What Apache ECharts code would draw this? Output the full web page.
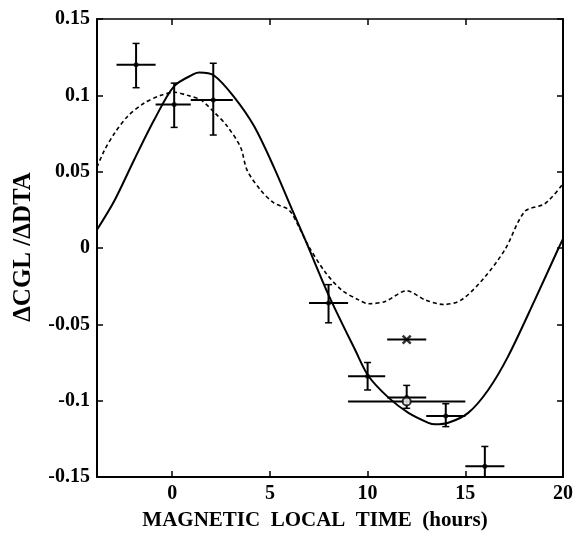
<!DOCTYPE html>
<html>
<head>
<meta charset="utf-8">
<script src="https://cdn.jsdelivr.net/npm/echarts@6/dist/echarts.min.js"></script>
<style>html,body{margin:0;padding:0;background:#fff;}#c{width:576px;height:545px;}</style>
</head>
<body>
<div id="c"></div>
<script>
// Solid fitted curve (x in hours, y value)
const solidX = [-3.85, -2.96, -1.94, -0.92, 0.10, 1.12, 1.38, 2.14, 3.16, 4.18, 5.20, 6.14, 6.82, 8.01, 9.37, 10.05, 11.07, 12.09, 13.11, 13.45, 14.13, 15.15, 16.17, 17.19, 18.56, 19.74, 20.0];
const solidY = [0.012, 0.031, 0.058, 0.084, 0.106, 0.114, 0.115, 0.113, 0.099, 0.080, 0.053, 0.025, 0.005, -0.031, -0.067, -0.084, -0.098, -0.108, -0.1145, -0.1155, -0.1145, -0.108, -0.093, -0.071, -0.034, -0.001, 0.006];
// Dashed model curve
const dashX = [-3.85, -3.47, -2.96, -2.30, -1.43, -0.58, 0.10, 0.77, 1.46, 2.14, 2.80, 3.50, 3.83, 4.52, 5.20, 5.97, 6.48, 6.99, 7.84, 8.67, 9.54, 10.05, 10.90, 12.0, 12.95, 13.9, 14.8, 16.0, 17.03, 18.05, 19.07, 20.0];
const dashY = [0.053, 0.064, 0.075, 0.086, 0.095, 0.100, 0.102, 0.100, 0.097, 0.089, 0.080, 0.066, 0.051, 0.038, 0.0295, 0.025, 0.014, 0.001, -0.016, -0.0275, -0.034, -0.0365, -0.035, -0.028, -0.034, -0.037, -0.034, -0.019, -0.001, 0.024, 0.029, 0.042];
// Data points with error bars
const ptX   = [-1.85, 0.10, 2.10, 8.0, 10.0, 12.0, 14.0, 16.0];
const ptY   = [0.120, 0.094, 0.097, -0.036, -0.084, -0.098, -0.110, -0.143];
const ptXLo = [-2.85, -0.85, 0.95, 7.0, 9.0, 11.0, 13.0, 15.0];
const ptXHi = [-0.85, 0.95, 3.10, 9.0, 10.9, 13.0, 15.0, 17.0];
const ptYLo = [0.105, 0.079, 0.074, -0.049, -0.093, -0.105, -0.117, -0.156];
const ptYHi = [0.134, 0.108, 0.121, -0.024, -0.075, -0.090, -0.102, -0.130];
// Open-circle point
const circX = [12.0], circY = [-0.1005], circXLo = [9.0], circXHi = [15.0];
// Cross point
const crossX = [12.0], crossY = [-0.060], crossXLo = [11.0], crossXHi = [13.0];
// Tick labels
const xTicks = [0, 5, 10, 15, 20];
const xTopTicks = [0, 5, 10, 15];
const xTitle = 'MAGNETIC  LOCAL  TIME  (hours)';
const yTitle = 'ΔCGL /ΔDTA';

const zip = (a, b) => a.map((v, i) => [v, b[i]]);
const errData = [];
ptX.forEach((x, i) => errData.push([x, ptY[i], ptXLo[i], ptXHi[i], ptYLo[i], ptYHi[i]]));
circX.forEach((x, i) => errData.push([x, circY[i], circXLo[i], circXHi[i], null, null]));
crossX.forEach((x, i) => errData.push([x, crossY[i], crossXLo[i], crossXHi[i], null, null]));

const font = '"Liberation Serif", "DejaVu Serif", serif';
const chart = echarts.init(document.getElementById('c'), null, {renderer: 'canvas'});
const fmtY = v => String(Number(v.toFixed(2)));

chart.setOption({
  animation: false,
  backgroundColor: '#fff',
  grid: {left: 97, right: 11, top: 19, bottom: 68},
  xAxis: [{
    type: 'value', min: -3.85, max: 20, position: 'bottom',
    axisLine: {show: true, onZero: false, lineStyle: {color: '#000', width: 2}},
    axisTick: {show: true, inside: true, length: 6, customValues: xTicks, lineStyle: {color: '#000', width: 1.5}},
    axisLabel: {customValues: xTicks, color: '#000', fontFamily: font, fontWeight: 'bold', fontSize: 20, margin: 7, showMinLabel: true, showMaxLabel: true},
    splitLine: {show: false}
  }, {
    type: 'value', min: -3.85, max: 20, position: 'top',
    axisLine: {show: true, onZero: false, lineStyle: {color: '#000', width: 1.5}},
    axisTick: {show: true, inside: true, length: 6, customValues: xTopTicks, lineStyle: {color: '#000', width: 1.5}},
    axisLabel: {show: false}, splitLine: {show: false}
  }],
  yAxis: [{
    type: 'value', min: -0.15, max: 0.15, interval: 0.05, position: 'left',
    axisLine: {show: true, onZero: false, lineStyle: {color: '#000', width: 2}},
    axisTick: {show: true, inside: true, length: 6, lineStyle: {color: '#000', width: 1.5}},
    axisLabel: {color: '#000', fontFamily: font, fontWeight: 'bold', fontSize: 20, margin: 7, formatter: fmtY},
    splitLine: {show: false}
  }, {
    type: 'value', min: -0.15, max: 0.15, interval: 0.05, position: 'right',
    axisLine: {show: true, onZero: false, lineStyle: {color: '#000', width: 2}},
    axisTick: {show: true, inside: true, length: 6, lineStyle: {color: '#000', width: 1.5}},
    axisLabel: {show: false}, splitLine: {show: false}
  }],
  graphic: [{
    type: 'text', x: 24, y: 247, rotation: Math.PI / 2,
    style: {text: yTitle, fill: '#000', font: 'bold 25px ' + font, textAlign: 'center', textVerticalAlign: 'middle'}
  }, {
    type: 'text', x: 315, y: 521,
    style: {text: xTitle, fill: '#000', font: 'bold 21px ' + font, textAlign: 'center', textVerticalAlign: 'middle'}
  }],
  series: [{
    type: 'line', data: zip(solidX, solidY), smooth: 0.3, showSymbol: false, symbol: 'none',
    lineStyle: {color: '#000', width: 2}, z: 3
  }, {
    type: 'line', data: zip(dashX, dashY), smooth: 0.3, showSymbol: false, symbol: 'none',
    lineStyle: {color: '#000', width: 1.6, type: [4, 3]}, z: 3
  }, {
    type: 'custom', data: errData, clip: true, z: 4,
    encode: {x: 0, y: 1},
    renderItem: function (params, api) {
      const x = api.value(0), y = api.value(1);
      const c = api.coord([x, y]);
      const lo = api.coord([api.value(2), y]);
      const hi = api.coord([api.value(3), y]);
      const children = [{
        type: 'line', shape: {x1: lo[0], y1: c[1], x2: hi[0], y2: c[1]},
        style: {stroke: '#000', lineWidth: 2}
      }];
      const ylo = api.value(4), yhi = api.value(5);
      if (ylo != null && !isNaN(ylo)) {
        const b = api.coord([x, ylo]), t = api.coord([x, yhi]);
        children.push({type: 'line', shape: {x1: c[0], y1: b[1], x2: c[0], y2: t[1]}, style: {stroke: '#000', lineWidth: 2}});
        children.push({type: 'line', shape: {x1: c[0] - 3.5, y1: t[1], x2: c[0] + 3.5, y2: t[1]}, style: {stroke: '#000', lineWidth: 1.5}});
        children.push({type: 'line', shape: {x1: c[0] - 3.5, y1: b[1], x2: c[0] + 3.5, y2: b[1]}, style: {stroke: '#000', lineWidth: 1.5}});
      }
      return {type: 'group', children: children};
    }
  }, {
    type: 'scatter', data: zip(ptX, ptY), symbol: 'circle', symbolSize: 5,
    itemStyle: {color: '#000'}, z: 5
  }, {
    type: 'scatter', data: zip(circX, circY), symbol: 'circle', symbolSize: 8,
    itemStyle: {color: '#fff', borderColor: '#000', borderWidth: 2}, z: 5
  }, {
    type: 'scatter', data: zip(crossX, crossY), symbol: 'path://M0,0L10,10M10,0L0,10', symbolSize: 8,
    itemStyle: {color: 'none', borderColor: '#000', borderWidth: 2.5}, z: 5
  }]
});
</script>
</body>
</html>
